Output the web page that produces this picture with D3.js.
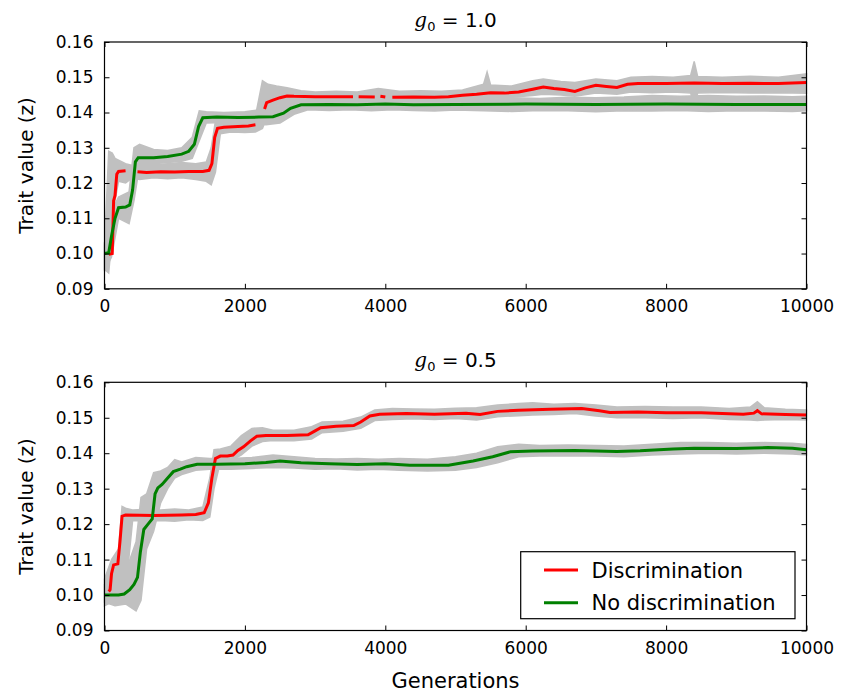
<!DOCTYPE html>
<html>
<head>
<meta charset="utf-8">
<script src="https://cdn.jsdelivr.net/npm/d3@7"></script>
<style>
  body { margin: 0; background: #fff; }
  svg text { font-family: "DejaVu Sans", sans-serif; fill: #000; }
</style>
</head>
<body>
<svg width="843" height="692"></svg>
<script>
// tick values
const genTicks = [0, 2000, 4000, 6000, 8000, 10000];
const traitTicks = [0.09, 0.10, 0.11, 0.12, 0.13, 0.14, 0.15, 0.16];
const seriesNames = ["Discrimination", "No discrimination"];

// g0 = 1.0 : mean trait, [generation, value]; null = hidden bit of the line
const topDisc = [[60,0.0998],[110,0.1000],[130,0.1150],[150,0.1165],[175,0.1225],[200,0.1233],[300,0.1235],[320,null],
  [470,0.1232],[600,0.1230],[800,0.1232],[1000,0.1231],[1200,0.1233],[1400,0.1233],[1490,0.1236],[1530,0.1255],
  [1570,0.1330],[1610,0.1355],[1700,0.1358],[1900,0.1360],[2050,0.1362],[2150,0.1365],[2190,null],[2280,0.1410],
  [2310,0.1428],[2400,0.1435],[2500,0.1442],[2600,0.1447],[2700,0.1446],[3000,0.1445],[3300,0.1445],[3540,0.1445],
  [3560,null],[3620,0.1445],[3850,0.1444],[3880,null],[3930,0.1446],[4000,0.1444],[4050,null],[4100,0.1443],
  [4400,0.1444],[4700,0.1443],[4900,0.1445],[5100,0.1449],[5300,0.1452],[5500,0.1456],[5700,0.1455],[5900,0.1458],
  [6100,0.1466],[6250,0.1472],[6400,0.1468],[6550,0.1465],[6700,0.1460],[6850,0.1470],[7000,0.1477],[7150,0.1474],
  [7300,0.1471],[7450,0.1480],[7600,0.1482],[8000,0.1482],[8400,0.1484],[8800,0.1482],[9200,0.1483],[9600,0.1482],[10000,0.1485]];
const topNoDisc = [[0,0.1000],[60,0.1002],[100,0.1050],[150,0.1100],[200,0.1130],[300,0.1132],[360,0.1138],[400,0.1180],
  [440,0.1260],[480,0.1272],[700,0.1272],[900,0.1275],[1100,0.1282],[1200,0.1290],[1280,0.1310],[1340,0.1360],
  [1400,0.1385],[1600,0.1387],[1900,0.1386],[2200,0.1387],[2400,0.1388],[2550,0.1398],[2650,0.1412],[2800,0.1422],
  [3200,0.1423],[3600,0.1422],[4000,0.1424],[4400,0.1422],[5000,0.1423],[6000,0.1424],[7000,0.1423],[8000,0.1424],
  [9000,0.1423],[10000,0.1423]];
// spread of the single runs, [generation, low, high]
const topDiscRuns = [[0,0.0955,0.1020],[60,0.0945,0.1290],[110,0.1060,0.1285],[150,0.1150,0.1270],[200,0.1205,0.1265],
  [300,0.1200,0.1255],[400,0.1215,0.1250],[500,0.1210,0.1258],[700,0.1215,0.1252],[900,0.1212,0.1255],[1100,0.1215,0.1258],
  [1300,0.1210,0.1255],[1450,0.1205,0.1260],[1520,0.1195,0.1300],[1580,0.1230,0.1375],[1650,0.1340,0.1380],
  [1800,0.1345,0.1378],[2000,0.1343,0.1385],[2150,0.1345,0.1390],[2250,0.1355,0.1490],[2330,0.1395,0.1480],
  [2450,0.1420,0.1475],[2600,0.1430,0.1470],[2800,0.1432,0.1462],[3000,0.1433,0.1458],[3300,0.1432,0.1460],
  [3600,0.1433,0.1458],[3900,0.1430,0.1468],[4200,0.1433,0.1460],[4500,0.1432,0.1462],[4800,0.1433,0.1460],
  [5100,0.1436,0.1464],[5400,0.1440,0.1480],[5450,0.1440,0.1515],[5500,0.1442,0.1478],[5800,0.1443,0.1475],
  [6100,0.1448,0.1490],[6250,0.1452,0.1495],[6500,0.1450,0.1488],[6700,0.1446,0.1485],[7000,0.1455,0.1495],
  [7300,0.1452,0.1490],[7500,0.1458,0.1500],[7800,0.1456,0.1502],[8100,0.1458,0.1500],[8350,0.1455,0.1505],
  [8400,0.1420,0.1545],[8450,0.1455,0.1502],[8800,0.1457,0.1500],[9200,0.1455,0.1503],[9600,0.1456,0.1500],[10000,0.1455,0.1510]];
const topNoDiscRuns = [[0,0.0950,0.1030],[100,0.0990,0.1120],[200,0.1100,0.1160],[350,0.1085,0.1175],[420,0.1150,0.1300],
  [500,0.1250,0.1310],[700,0.1255,0.1295],[900,0.1258,0.1292],[1100,0.1262,0.1300],[1250,0.1270,0.1330],
  [1350,0.1320,0.1405],[1450,0.1370,0.1402],[1700,0.1372,0.1400],[2000,0.1370,0.1402],[2300,0.1365,0.1410],
  [2500,0.1370,0.1420],[2700,0.1395,0.1440],[2900,0.1408,0.1442],[3200,0.1406,0.1440],[3500,0.1408,0.1438],
  [3800,0.1405,0.1442],[4100,0.1408,0.1440],[4400,0.1406,0.1442],[4700,0.1404,0.1440],[5000,0.1407,0.1441],
  [5400,0.1405,0.1440],[5800,0.1403,0.1442],[6200,0.1406,0.1440],[6600,0.1405,0.1443],[7000,0.1402,0.1442],
  [7400,0.1405,0.1444],[7800,0.1404,0.1448],[8200,0.1406,0.1446],[8600,0.1403,0.1448],[9000,0.1405,0.1446],
  [9400,0.1404,0.1447],[9800,0.1403,0.1445],[10000,0.1405,0.1446]];

// g0 = 0.5
const botDisc = [[60,0.1010],[80,0.1015],[100,0.1060],[130,0.1085],[190,0.1088],[220,0.1150],[250,0.1222],[300,0.1226],
  [500,0.1225],[700,0.1224],[900,0.1225],[1100,0.1226],[1300,0.1227],[1420,0.1232],[1480,0.1260],[1530,0.1330],
  [1580,0.1385],[1650,0.1392],[1750,0.1392],[1830,0.1395],[1900,0.1408],[1980,0.1418],[2080,0.1435],[2170,0.1448],
  [2300,0.1450],[2600,0.1450],[2900,0.1452],[3000,0.1463],[3080,0.1472],[3300,0.1476],[3550,0.1478],[3650,0.1488],
  [3780,0.1505],[3920,0.1510],[4300,0.1512],[4700,0.1510],[5150,0.1513],[5350,0.1509],[5600,0.1518],[5900,0.1521],
  [6350,0.1524],[6800,0.1526],[7050,0.1520],[7200,0.1515],[7600,0.1516],[8000,0.1514],[8500,0.1514],[8800,0.1512],
  [9100,0.1510],[9250,0.1513],[9300,0.1520],[9360,0.1511],[9700,0.1509],[10000,0.1508]];
const botNoDisc = [[0,0.1000],[200,0.1000],[280,0.1003],[360,0.1015],[420,0.1030],[470,0.1050],[510,0.1120],[560,0.1185],
  [620,0.1200],[680,0.1215],[720,0.1285],[760,0.1302],[820,0.1312],[900,0.1330],[980,0.1348],[1080,0.1355],
  [1170,0.1362],[1320,0.1369],[1600,0.1369],[2000,0.1370],[2300,0.1374],[2500,0.1378],[2800,0.1373],[3200,0.1370],
  [3600,0.1368],[4000,0.1370],[4350,0.1366],[4900,0.1366],[5250,0.1378],[5530,0.1390],[5780,0.1404],[6100,0.1406],
  [6700,0.1408],[7300,0.1405],[7630,0.1407],[8100,0.1412],[8400,0.1414],[9000,0.1413],[9450,0.1416],[9800,0.1414],[10000,0.1410]];
const botDiscRuns = [[0,0.0970,0.1045],[100,0.0980,0.1100],[200,0.0985,0.1130],[250,0.1000,0.1250],[300,0.1010,0.1245],
  [400,0.1210,0.1240],[600,0.1208,0.1242],[800,0.1210,0.1240],[1000,0.1208,0.1243],[1200,0.1212,0.1240],
  [1400,0.1210,0.1248],[1500,0.1220,0.1330],[1560,0.1300,0.1410],[1650,0.1375,0.1412],[1800,0.1378,0.1420],
  [1950,0.1395,0.1450],[2100,0.1420,0.1470],[2250,0.1433,0.1472],[2400,0.1436,0.1465],[2700,0.1435,0.1465],
  [2950,0.1440,0.1475],[3100,0.1458,0.1488],[3400,0.1462,0.1490],[3650,0.1470,0.1502],[3850,0.1492,0.1522],
  [4100,0.1495,0.1526],[4400,0.1497,0.1525],[4700,0.1495,0.1524],[5000,0.1498,0.1527],[5300,0.1494,0.1528],
  [5600,0.1503,0.1536],[5900,0.1506,0.1540],[6100,0.1508,0.1542],[6400,0.1509,0.1538],[6700,0.1512,0.1540],
  [7000,0.1505,0.1536],[7300,0.1500,0.1530],[7700,0.1500,0.1532],[8100,0.1498,0.1530],[8500,0.1500,0.1530],
  [8900,0.1495,0.1526],[9200,0.1494,0.1530],[9300,0.1492,0.1545],[9400,0.1494,0.1528],[9700,0.1495,0.1524],[10000,0.1494,0.1522]];
const botNoDiscRuns = [[0,0.0980,0.1030],[150,0.0970,0.1050],[300,0.0975,0.1065],[450,0.0955,0.1150],[520,0.0985,0.1275],
  [600,0.1130,0.1285],[700,0.1180,0.1345],[800,0.1260,0.1350],[900,0.1300,0.1360],[1000,0.1330,0.1382],
  [1100,0.1340,0.1375],[1300,0.1352,0.1388],[1500,0.1355,0.1385],[1800,0.1355,0.1385],[2100,0.1357,0.1388],
  [2400,0.1360,0.1395],[2700,0.1358,0.1390],[3000,0.1355,0.1385],[3300,0.1356,0.1384],[3600,0.1353,0.1385],
  [3900,0.1355,0.1383],[4200,0.1352,0.1385],[4600,0.1350,0.1383],[5000,0.1352,0.1390],[5300,0.1360,0.1400],
  [5600,0.1373,0.1418],[5900,0.1390,0.1425],[6200,0.1392,0.1422],[6600,0.1393,0.1423],[7000,0.1392,0.1422],
  [7400,0.1390,0.1420],[7800,0.1395,0.1425],[8200,0.1398,0.1430],[8600,0.1400,0.1430],[9000,0.1398,0.1428],
  [9400,0.1400,0.1430],[9800,0.1398,0.1428],[10000,0.1395,0.1425]];

const svg = d3.select("svg");
const left = 104.5, right = 806.5;
const red = "#ff0000", green = "#008000", grey = "#c0c0c0";

const panels = [
  { g0: "1.0", top: 42, bottom: 288.8, disc: topDisc, noDisc: topNoDisc, discRuns: topDiscRuns, noDiscRuns: topNoDiscRuns },
  { g0: "0.5", top: 382.3, bottom: 630.5, disc: botDisc, noDisc: botNoDisc, discRuns: botDiscRuns, noDiscRuns: botNoDiscRuns, legend: true }
];

const x = d3.scaleLinear().domain([0, 10000]).range([left, right]);

panels.forEach(p => {
  const y = d3.scaleLinear().domain([0.09, 0.16]).range([p.bottom, p.top]);
  const g = svg.append("g");

  const band = d3.area().x(d => x(d[0])).y0(d => y(d[1])).y1(d => y(d[2]));
  const line = d3.line().defined(d => d[1] != null).x(d => x(d[0])).y(d => y(d[1]));

  g.append("path").attr("d", band(p.discRuns)).attr("fill", grey).attr("stroke", grey).attr("stroke-width", 1.5);
  g.append("path").attr("d", band(p.noDiscRuns)).attr("fill", grey).attr("stroke", grey).attr("stroke-width", 1.5);
  g.append("path").attr("d", line(p.disc)).attr("fill", "none").attr("stroke", red).attr("stroke-width", 3);
  g.append("path").attr("d", line(p.noDisc)).attr("fill", "none").attr("stroke", green).attr("stroke-width", 3);

  // axes, ticks pointing inwards like matplotlib
  g.append("g").attr("transform", `translate(0,${p.bottom})`)
    .call(d3.axisBottom(x).tickValues(genTicks).tickFormat(d3.format("d")).tickSizeInner(-5).tickSizeOuter(0).tickPadding(11));
  g.append("g").attr("transform", `translate(0,${p.top})`)
    .call(d3.axisTop(x).tickValues(genTicks).tickFormat("").tickSizeInner(-5).tickSizeOuter(0));
  g.append("g").attr("transform", `translate(${left},0)`)
    .call(d3.axisLeft(y).tickValues(traitTicks).tickFormat(d3.format(".2f")).tickSizeInner(-5).tickSizeOuter(0).tickPadding(11));
  g.append("g").attr("transform", `translate(${right},0)`)
    .call(d3.axisRight(y).tickValues(traitTicks).tickFormat("").tickSizeInner(-5).tickSizeOuter(0));
  g.selectAll(".domain").remove();
  g.selectAll(".tick line").attr("stroke", "#000");
  g.selectAll(".tick text").style("font-size", "17px").attr("fill", "#000");

  g.append("rect").attr("x", left).attr("y", p.top)
    .attr("width", right - left).attr("height", p.bottom - p.top)
    .attr("fill", "none").attr("stroke", "#000").attr("stroke-width", 1.2);

  // title
  const t = g.append("text").attr("x", (left + right) / 2).attr("y", p.top - 15)
    .attr("text-anchor", "middle").style("font-size", "20px");
  t.append("tspan").text("g").style("font-family", "'DejaVu Serif', serif").style("font-style", "italic");
  t.append("tspan").text("0").attr("dy", 4).style("font-size", "13px");
  t.append("tspan").text(" = " + p.g0).attr("dy", -4);

  g.append("text").attr("transform", `translate(33,${(p.top + p.bottom) / 2}) rotate(-90)`)
    .attr("text-anchor", "middle").style("font-size", "20px").text("Trait value (z)");

  if (p.legend) {
    const lg = g.append("g");
    lg.append("rect").attr("x", 520.7).attr("y", 551.7).attr("width", 274.3).attr("height", 67)
      .attr("fill", "#fff").attr("stroke", "#000").attr("stroke-width", 1.2);
    [red, green].forEach((c, i) => {
      const yy = 570 + i * 32.7;
      lg.append("line").attr("x1", 544).attr("x2", 578).attr("y1", yy).attr("y2", yy)
        .attr("stroke", c).attr("stroke-width", 3);
      lg.append("text").attr("x", 591.5).attr("y", yy + 7.5).style("font-size", "21px").text(seriesNames[i]);
    });
  }
});

svg.append("text").attr("x", (left + right) / 2).attr("y", 688)
  .attr("text-anchor", "middle").style("font-size", "21px").text("Generations");
</script>
</body>
</html>
